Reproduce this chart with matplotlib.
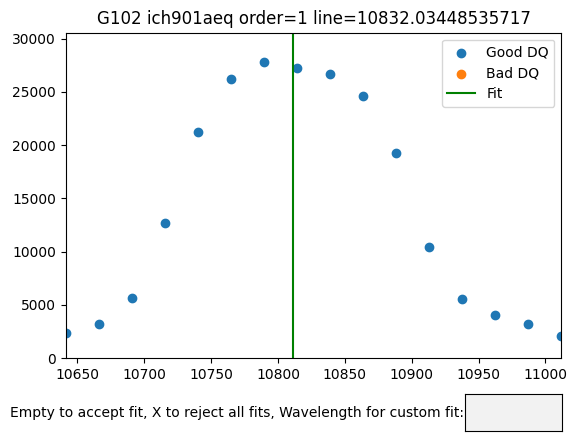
import numpy as np
import matplotlib
matplotlib.use('Agg')
import matplotlib.pyplot as plt
from matplotlib.widgets import TextBox

wave = [10641.3, 10666.0, 10690.7, 10715.4, 10740.1, 10764.9, 10789.6, 10814.3,
        10839.0, 10863.7, 10888.4, 10913.1, 10937.8, 10962.5, 10987.2, 11011.9]
flux = [2310, 3180, 5590, 12700, 21230, 26190, 27780, 27250,
        26660, 24600, 19260, 10460, 5500, 4000, 3160, 2030]
bad_wave = []
bad_flux = []
fit_line = 10811.1
title = 'G102 ich901aeq order=1 line=10832.03448535717'

fig = plt.figure(figsize=(5.76, 4.45), dpi=100)
ax = fig.add_axes([0.1141, 0.1955, 0.8604, 0.731])
ax.scatter(wave, flux, label='Good DQ')
ax.scatter(bad_wave, bad_flux, label='Bad DQ')
ax.axvline(fit_line, color='green', label='Fit')
ax.set_xlim(min(wave), max(wave))
ax.set_ylim(0, 30550)
ax.set_title(title)
ax.legend(loc='upper right')

axbox = fig.add_axes([0.807, 0.0315, 0.168, 0.083])
text_box = TextBox(axbox, 'Empty to accept fit, X to reject all fits, Wavelength for custom fit:')

fig.savefig('out.png')
